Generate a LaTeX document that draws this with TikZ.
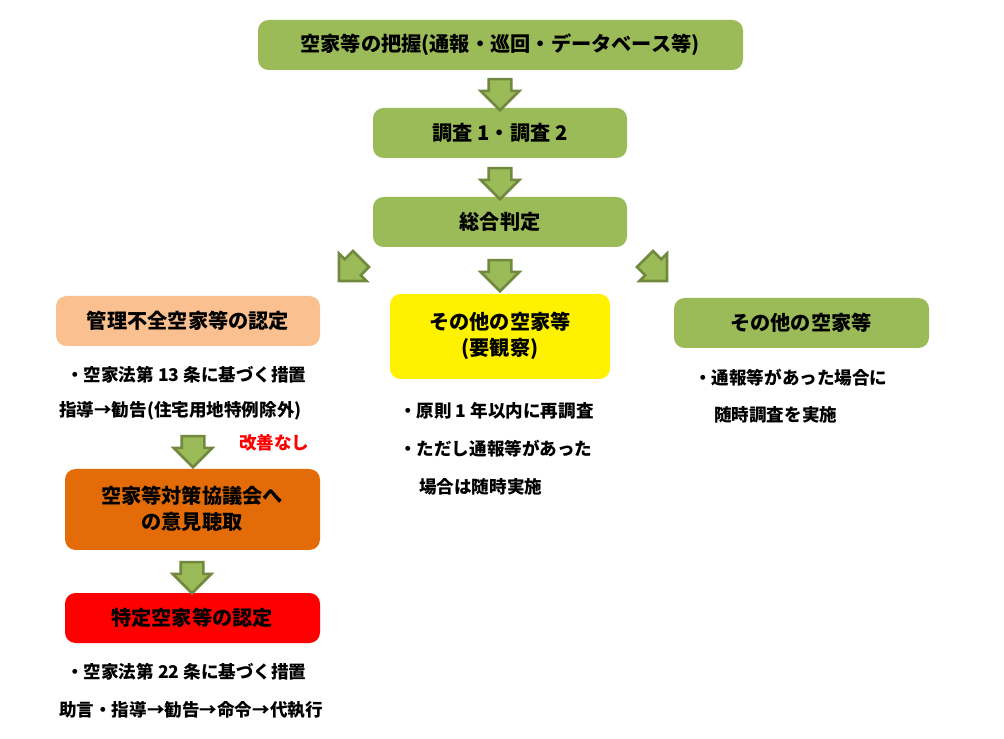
\documentclass[tikz,border=0pt]{standalone}
\usepackage{fontspec}
\setmainfont{Noto Sans CJK JP}
\usetikzlibrary{shapes.arrows}
\definecolor{leaf}{HTML}{9BBB59}
\definecolor{leafdark}{HTML}{71893F}
\definecolor{peach}{HTML}{FAC090}
\definecolor{amber}{HTML}{E36C09}
\tikzset{
  box/.style={rounded corners=6pt, inner sep=0pt, align=center, font=\fontsize{11.5}{15}\selectfont\bfseries},
  flow/.style={single arrow, draw=leafdark, fill=leaf, line width=1.5pt, minimum height=0.62cm,
    inner xsep=0pt, inner ysep=0.2cm, single arrow head extend=0.16cm},
  note/.style={anchor=west, font=\fontsize{10}{12}\selectfont\bfseries}
}
\begin{document}
\begin{tikzpicture}[x=0.02cm,y=-0.02cm]
\useasboundingbox (0,0) rectangle (1004,739);
% boxes
\draw[box, fill=leaf, draw=none] (258,20) rectangle (743,70);
\node[box] (grasp) at (500,45) {空家等の把握(通報・巡回・データベース等)};
\draw[box, fill=leaf, draw=none] (373,108) rectangle (627,158);
\node[box] (survey) at (500,133) {調査 1・調査 2};
\draw[box, fill=leaf, draw=none] (373,197) rectangle (627,247);
\node[box] (judge) at (500,222) {総合判定};
\draw[box, fill=peach, draw=none] (56,296) rectangle (320,346);
\node[box] (poor) at (188,321) {管理不全空家等の認定};
\draw[box, fill=yellow, draw=none] (390,294) rectangle (610,379);
\node[box] (watch) at (500,336) {その他の空家等\\(要観察)};
\draw[box, fill=leaf, draw=none] (674,298) rectangle (929,348);
\node[box] (other) at (801,323) {その他の空家等};
\draw[box, fill=amber, draw=none] (65,469) rectangle (320,550);
\node[box] (council) at (192,509) {空家等対策協議会へ\\の意見聴取};
\draw[box, fill=red, draw=none] (65,593) rectangle (320,643);
\node[box] (special) at (192,618) {特定空家等の認定};
% block arrows
\node[flow, rotate=-90] (a1) at (500,89) {};
\node[flow, rotate=-90] (a2) at (500,178) {};
\node[flow, rotate=-90] (a3) at (500,270) {};
\node[flow, rotate=-135] (a4) at (354,266) {};
\node[flow, rotate=-45] (a5) at (652,266) {};
\node[flow, rotate=-90] (a6) at (193,446) {};
\node[flow, rotate=-90] (a7) at (192,572) {};
% notes
\node[note] (n1) at (60,375) {・空家法第 13 条に基づく措置};
\node[note] (n2) at (53,411) {指導→勧告(住宅用地特例除外)};
\node[note, text=red] (n3) at (233,443) {改善なし};
\node[note] (n4) at (393,411) {・原則 1 年以内に再調査};
\node[note] (n5) at (393,449) {・ただし通報等があった};
\node[note] (n6) at (413,487) {場合は随時実施};
\node[note] (n7) at (688,378) {・通報等があった場合に};
\node[note] (n8) at (708,415) {随時調査を実施};
\node[note] (n9) at (60,672) {・空家法第 22 条に基づく措置};
\node[note] (n10) at (53,710) {助言・指導→勧告→命令→代執行};
\end{tikzpicture}
\end{document}
